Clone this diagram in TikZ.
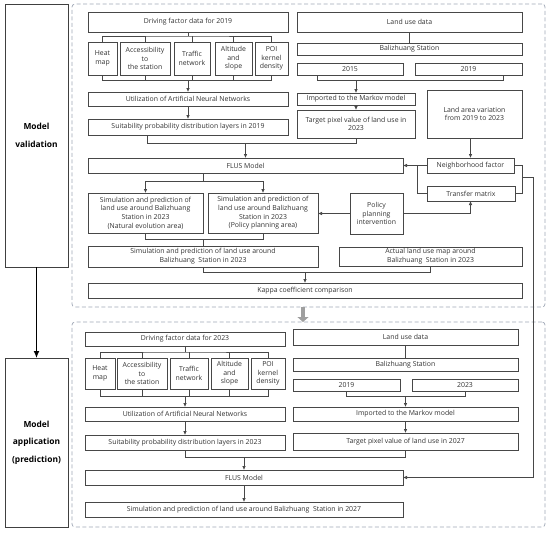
\documentclass[tikz,border=0pt]{standalone}
\usepackage{fontspec}
\setmainfont{Open Sans}
\usetikzlibrary{arrows.meta}

\begin{document}
\begin{tikzpicture}[
    x=1pt, y=-1pt, % one unit = one pixel of the reference, y going down
    >={Latex[length=4pt,width=3.6pt]},
    outer sep=0pt,
    sz/.style 2 args={minimum width=#1pt, minimum height=#2pt},
    box/.style={draw=boxline, line width=0.75pt, text=txt, align=center, inner sep=1pt,
        font=\fontsize{6.9}{8.7}\selectfont},
    side/.style={draw=black!75, line width=0.9pt, text=black, align=center, inner sep=1pt,
        font=\bfseries\fontsize{8.4}{17.5}\selectfont},
    frame/.style={draw=dashcol, line width=0.7pt, dash pattern=on 4pt off 2.5pt, rounded corners=3pt},
    link/.style={draw=boxline, line width=0.75pt},
    arr/.style={link, ->},
    bigarr/.style={draw=gray!75, line width=4.5pt, -{Triangle[length=5pt,width=11pt]}}
]

% --- 1. SETTINGS & COLORS ---
\colorlet{boxline}{black!72}
\colorlet{txt}{black!80}
\definecolor{dashcol}{RGB}{160,168,182}

\useasboundingbox (0,0) rectangle (550,533);

% --- 2. LEFT LABELS & FRAMES ---
\node[side, sz={63}{263}] (valid) at (36.5,135.5) {Model\\validation};
\node[side, sz={63}{169}] (appl) at (36.5,442.5) {Model\\application\\(prediction)};
\node[frame, sz={473}{303}] (f1) at (308.5,155.5) {};
\node[frame, sz={473}{205}] (f2) at (308.5,424.5) {};

% --- 3. VALIDATION: DRIVING FACTORS ---
\node[box, sz={200}{20}] (drv1) at (188,22) {Driving factor data for 2019};
\node[box, sz={29}{33}] (heat1) at (102.5,58.5) {Heat\\map};
\node[box, sz={50}{33}] (acc1) at (145,58.5) {Accessibility\\to\\the station};
\node[box, sz={36}{33}] (traf1) at (192,58.5) {Traffic\\network};
\node[box, sz={37}{33}] (alt1) at (233.5,58.5) {Altitude\\and\\slope};
\node[box, sz={33}{33}] (poi1) at (271.5,58.5) {POI\\kernel\\density};
\node[box, sz={200}{14}] (ann1) at (188,99) {Utilization of Artificial Neural Networks};
\node[box, sz={200}{16}] (suit1) at (188,127) {Suitability probability distribution layers in 2019};

% --- 4. VALIDATION: LAND USE ---
\node[box, sz={225}{20}] (land1) at (409.5,22) {Land use data};
\node[box, sz={225}{12}] (bal1) at (409.5,49) {Balizhuang Station};
\node[box, sz={106}{12}] (y15) at (350,69) {2015};
\node[box, sz={107}{12}] (y19) at (468.5,69) {2019};
\node[box, sz={118}{12}] (mark1) at (356,99) {Imported to the Markov model};
\node[box, sz={118}{28}] (targ1) at (356,124) {Target pixel value of land use in\\2023};
\node[box, sz={95}{48}] (var1) at (474.5,114) {Land area variation\\from 2019 to 2023};

% --- 5. VALIDATION: FLUS & SIMULATION ---
\node[box, sz={315}{15}] (flus1) at (245.5,165.5) {FLUS Model};
\node[box, sz={87}{15}] (nbr) at (470.5,165.5) {Neighborhood factor};
\node[box, sz={88}{15}] (trm) at (471,193.5) {Transfer matrix};
\node[box, sz={53}{41}] (pol) at (376.5,213.5) {Policy\\planning\\intervention};
\node[box, sz={115}{40}] (simn) at (145.5,213) {Simulation and prediction of\\land use around Balizhuang\\Station in 2023\\(Natural evolution area)};
\node[box, sz={110}{40}] (simp) at (263,213) {Simulation and prediction of\\land use around Balizhuang\\Station in 2023\\(Policy planning area)};
\node[box, sz={230}{21}] (simc) at (203,256.5) {Simulation and prediction of land use around\\Balizhuang~~Station in 2023};
\node[box, sz={183}{19}] (act) at (430.5,256.5) {Actual land use map around\\Balizhuang~~Station in 2023};
\node[box, sz={434}{15}] (kap) at (305,290.5) {Kappa coefficient comparison};

% --- 6. APPLICATION BOXES ---
\node[box, sz={200}{14}] (drv2) at (185,339) {Driving factor data for 2023};
\node[box, sz={30}{31}] (heat2) at (100,373.5) {Heat\\map};
\node[box, sz={50}{31}] (acc2) at (142,373.5) {Accessibility\\to\\the station};
\node[box, sz={38}{31}] (traf2) at (189,373.5) {Traffic\\network};
\node[box, sz={37}{31}] (alt2) at (229.5,373.5) {Altitude\\and\\slope};
\node[box, sz={34}{31}] (poi2) at (268,373.5) {POI\\kernel\\density};
\node[box, sz={200}{14}] (ann2) at (185,414) {Utilization of Artificial Neural Networks};
\node[box, sz={200}{15}] (suit2) at (185,442.5) {Suitability probability distribution layers in 2023};
\node[box, sz={225}{16}] (land2) at (405.5,337) {Land use data};
\node[box, sz={225}{13}] (bal2) at (405.5,364.5) {Balizhuang Station};
\node[box, sz={107}{12}] (y19b) at (346.5,385) {2019};
\node[box, sz={106}{12}] (y23b) at (465,385) {2023};
\node[box, sz={225}{14}] (mark2) at (405.5,414) {Imported to the Markov model};
\node[box, sz={225}{17}] (targ2) at (405.5,441.5) {Target pixel value of land use in 2027};
\node[box, sz={318}{15}] (flus2) at (244,477.5) {FLUS Model};
\node[box, sz={318}{15}] (sim2) at (244,509.5) {Simulation and prediction of land use around Balizhuang~~Station in 2027};

% --- 7. CONNECTORS: VALIDATION ---
\draw[link] (drv1.south) -- ++(0,4) coordinate (b1);
\draw[link] (heat1.north) |- (b1) -| (poi1.north);
\foreach \n in {acc1,traf1,alt1} \draw[link] (\n.north) -- (\n.north |- b1);
\draw[link] (heat1.south) -- ++(0,5) coordinate (c1) -| (poi1.south);
\foreach \n in {acc1,traf1,alt1} \draw[link] (\n.south) -- (\n.south |- c1);
\draw[arr] (c1 -| drv1) -- (ann1.north);
\draw[arr] (ann1.south) -- (suit1.north);

\draw[link] (land1.south) -- (bal1.north);
\draw[link] ([xshift=20pt]y15.south west) -- ++(0,5) coordinate (c2) -| ([xshift=-19pt]y19.south east);
\draw[arr] (c2 -| mark1) -- (mark1.north);
\draw[arr] (mark1.south) -- (targ1.north);

\draw[link] ([xshift=-41pt]suit1.south) -- ++(0,8) coordinate (c3) -| (targ1.south);
\draw[arr] (c3 -| flus1) -- (flus1.north);
\draw[arr] (var1.south -| nbr) -- (nbr.north);

% neighborhood factor + transfer matrix feed both models
\draw[link] (nbr.west) -- ++(-10,0) coordinate (c4) |- (trm.west);
\draw[arr] (c4) -- (flus1.east);
\draw[link] (nbr.east) -- ++(8,0) coordinate (c5) |- (trm.east);
\draw[arr] (c5) ++(0,11.5) -- ++(11,0) |- (flus2.east);

\draw[arr] (pol.west) -- (pol.west -| simp.east);
\draw[arr] (pol.east) -| (trm.south -| nbr);

\draw[link] (flus1.south -| simc) -- ++(0,8) coordinate (c6);
\draw[arr] (c6) -| (simn.north);
\draw[arr] (c6) -| (simp.north);
\draw[link] (simn.south) -- ++(0,6) -| (simp.south);
\draw[link] (simc.north) -- ++(0,-7);
\draw[link] (simc.south) -- ++(0,5) coordinate (c7) -| (act.south);
\draw[arr] (c7 -| kap) -- (kap.north);

% --- 8. CONNECTORS: APPLICATION ---
\draw[link] (drv2.south) -- ++(0,6) coordinate (b2);
\draw[link] (heat2.north) |- (b2) -| (poi2.north);
\foreach \n in {acc2,traf2,alt2} \draw[link] (\n.north) -- (\n.north |- b2);
\draw[link] (heat2.south) -- ++(0,7) coordinate (c8) -| (poi2.south);
\foreach \n in {acc2,traf2,alt2} \draw[link] (\n.south) -- (\n.south |- c8);
\draw[arr] (c8 -| drv2) -- (ann2.north);
\draw[arr] (ann2.south) -- (suit2.north);

\draw[link] (land2.south) -- (bal2.north);
\draw[link] (y19b.south) -- ++(0,5) coordinate (c9) -| (y23b.south);
\draw[arr] (c9 -| mark2) -- (mark2.north);
\draw[arr] (mark2.south) -- (targ2.north);
\draw[link] (suit2.south) -- ++(0,7) coordinate (c10) -| (targ2.south);
\draw[arr] (c10 -| flus2) -- (flus2.north);
\draw[arr] (flus2.south) -- (sim2.north);

% --- 9. BETWEEN STAGES ---
\draw[bigarr] ([xshift=-2pt]kap.south |- f1.south) -- ([xshift=-2pt]kap.south |- f2.north);
\draw[line width=1.2pt, -{Latex[length=7pt,width=6pt]}] (valid.south) -- (appl.north);

\end{tikzpicture}
\end{document}
